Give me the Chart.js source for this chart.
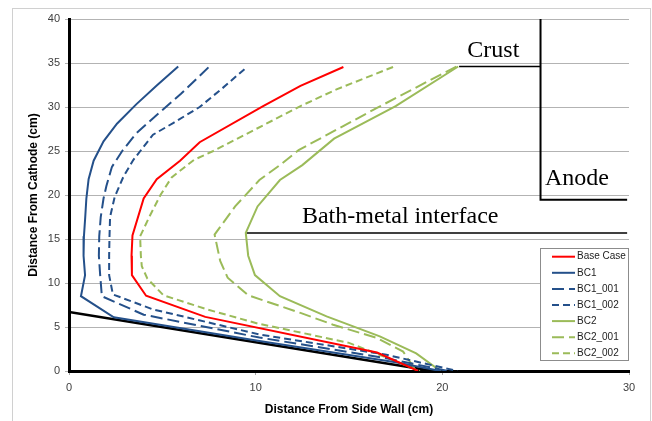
<!DOCTYPE html>
<html>
<head>
<meta charset="utf-8">
<script src="https://cdn.jsdelivr.net/npm/chart.js@4"></script>
<style>
  html, body { margin: 0; padding: 0; background: #fff; }
  #wrap { width: 652px; height: 421px; }
</style>
</head>
<body>
<div id="wrap"><canvas id="chartFreeze" width="652" height="421"></canvas></div>
<script>
  // [x, y] pairs (x = distance from side wall, y = distance from cathode)
  const baseCase = [[14.7, 34.55], [12.4, 32.4], [10.4, 30.1], [7.0, 26.0], [5.95, 23.9], [4.7, 21.8], [4.0, 19.6], [3.4, 15.4], [3.35, 13.1], [3.37, 10.9], [4.13, 8.55], [7.3, 6.15], [16.5, 2.1], [18.7, 0]];
  const bc1 = [[5.85, 34.6], [4.7, 32.45], [3.6, 30.3], [2.57, 28.1], [1.85, 26.1], [1.32, 23.9], [1.05, 21.8], [0.93, 19.6], [0.87, 17.5], [0.8, 15.3], [0.78, 13.1], [0.86, 10.9], [0.64, 8.5], [2.4, 6.1], [10.2, 3.4], [17.5, 1.0], [19.9, 0]];
  const bc1_001 = [[7.47, 34.5], [6.0, 31.5], [4.7, 29.1], [3.6, 27.0], [2.85, 25.0], [2.3, 23.2], [2.0, 21.0], [1.85, 19.6], [1.7, 17.5], [1.62, 15.3], [1.6, 13.1], [1.67, 10.9], [1.76, 8.5], [4.0, 6.4], [10.2, 3.8], [17.0, 1.45], [20.3, 0]];
  const bc1_002 = [[9.4, 34.3], [8.2, 32.1], [7.0, 30.0], [5.6, 28.2], [4.5, 26.85], [3.45, 24.0], [2.92, 22.1], [2.45, 19.8], [2.2, 17.5], [2.17, 15.3], [2.15, 13.1], [2.15, 10.9], [2.35, 8.7], [4.5, 7.0], [10.2, 4.15], [17.0, 1.85], [20.8, 0]];
  const bc2 = [[20.85, 34.6], [17.5, 30.1], [15.9, 28.3], [14.2, 26.4], [12.5, 23.4], [11.3, 21.7], [10.1, 18.7], [9.47, 15.7], [9.6, 13.1], [9.96, 10.9], [11.3, 8.5], [13.8, 6.2], [16.65, 3.93], [18.6, 2.0], [19.9, 0]];
  const bc2_001 = [[20.75, 34.6], [16.5, 29.9], [12.3, 25.1], [11.3, 23.4], [10.2, 21.7], [8.9, 18.7], [7.8, 15.5], [8.1, 12.5], [8.5, 10.6], [9.6, 8.6], [12.4, 6.6], [14.15, 5.26], [16.5, 3.75], [17.9, 2.2], [18.6, 0]];
  const bc2_002 = [[17.36, 34.55], [14.33, 32.0], [12.4, 30.1], [7.73, 25.0], [6.7, 24.0], [5.5, 22.0], [4.9, 20.0], [4.3, 17.5], [3.81, 15.3], [3.85, 13.1], [3.9, 11.9], [4.2, 10.5], [5.06, 8.6], [7.4, 7.0], [10.1, 5.4], [15.0, 3.2], [16.8, 1.7], [18.8, 0]];

  // outline of the cell drawn in black
  const ledgeLine = [[0, 6.7], [19.5, 0]];
  const crustLine = [[20.9, 34.6], [25.26, 34.6]];
  const anodeLine = [[25.26, 40], [25.26, 19.45], [29.9, 19.45]];
  const interfaceLine = [[9.5, 15.68], [29.9, 15.68]];

  const seriesNames = ["Base Case", "BC1", "BC1_001", "BC1_002", "BC2", "BC2_001", "BC2_002"];
  const seriesData = [baseCase, bc1, bc1_001, bc1_002, bc2, bc2_001, bc2_002];
  const noteLabels = ["Crust", "Anode", "Bath-metal interface"];

  const xTickValues = [0, 10, 20, 30];
  const yTickValues = [0, 5, 10, 15, 20, 25, 30, 35, 40];

  const RED = "#ff0000";
  const BLUE = "#24508a";
  const GREEN = "#9bbb59";
  const seriesStyle = [
    { color: RED, dash: [] },
    { color: BLUE, dash: [] },
    { color: BLUE, dash: [12, 5] },
    { color: BLUE, dash: [7, 4] },
    { color: GREEN, dash: [] },
    { color: GREEN, dash: [12, 5] },
    { color: GREEN, dash: [7, 4] }
  ];

  const toPoints = (arr) => arr.map(([x, y]) => ({ x, y }));

  const datasets = seriesData.map((d, i) => ({
    label: seriesNames[i],
    data: toPoints(d),
    borderColor: seriesStyle[i].color,
    borderDash: seriesStyle[i].dash,
    borderWidth: 2,
    showLine: true,
    pointRadius: 0,
    tension: 0
  }));

  const outline = (d, w) => ({
    label: "",
    data: toPoints(d),
    borderColor: "#000",
    borderWidth: w,
    showLine: true,
    pointRadius: 0
  });
  datasets.push(outline(ledgeLine, 2.5), outline(crustLine, 1.5), outline(anodeLine, 2), outline(interfaceLine, 1.5));

  const extras = {
    id: "extras",
    beforeDraw(chart) {
      const { ctx } = chart;
      ctx.save();
      ctx.fillStyle = "#fff";
      ctx.fillRect(0, 0, chart.width, chart.height);
      ctx.strokeStyle = "#d0d0d0";
      ctx.lineWidth = 1;
      ctx.strokeRect(12.5, 8.5, 638, 430);
      ctx.restore();
    },
    afterDatasetsDraw(chart) {
      const { ctx, scales: { x, y } } = chart;
      ctx.save();
      // text notes on the cell sketch
      ctx.fillStyle = "#000";
      ctx.font = "24px 'Liberation Serif', 'Times New Roman', serif";
      ctx.textBaseline = "alphabetic";
      ctx.textAlign = "left";
      const notes = [[21.34, 35.7], [25.5, 21.17], [12.48, 16.82]];
      noteLabels.forEach((t, i) => {
        ctx.fillText(t, x.getPixelForValue(notes[i][0]), y.getPixelForValue(notes[i][1]));
      });

      // legend box inside plot
      const bx = 540.5, by = 248.5, bw = 88, bh = 112;
      ctx.fillStyle = "#fff";
      ctx.fillRect(bx, by, bw, bh);
      ctx.strokeStyle = "#8c8c8c";
      ctx.lineWidth = 1;
      ctx.strokeRect(bx, by, bw, bh);
      ctx.font = "10px 'Liberation Sans Narrow', 'Liberation Sans', sans-serif";
      ctx.textBaseline = "middle";
      seriesNames.forEach((name, i) => {
        const ly = 256.7 + i * 16.1;
        ctx.strokeStyle = seriesStyle[i].color;
        ctx.lineWidth = 2;
        ctx.setLineDash(seriesStyle[i].dash);
        ctx.beginPath();
        ctx.moveTo(552, ly);
        ctx.lineTo(575, ly);
        ctx.stroke();
        ctx.setLineDash([]);
        ctx.fillStyle = "#222";
        ctx.fillText(name, 577, ly);
      });
      ctx.restore();
    }
  };

  const tickFont = { family: "'Liberation Sans', sans-serif", size: 11 };
  const titleFont = { family: "'Liberation Sans', sans-serif", size: 12, weight: "bold" };

  new Chart(document.getElementById("chartFreeze"), {
    type: "scatter",
    data: { datasets },
    options: {
      responsive: false,
      devicePixelRatio: 1,
      animation: false,
      layout: { padding: { left: 22, top: 19, right: 23, bottom: 0 } },
      plugins: {
        legend: { display: false },
        tooltip: { enabled: false }
      },
      scales: {
        x: {
          type: "linear",
          min: 0,
          max: 30,
          afterBuildTicks: (s) => { s.ticks = xTickValues.map((v) => ({ value: v })); },
          afterFit: (s) => { s.height = 50; },
          ticks: { font: tickFont, color: "#404040", padding: 6 },
          grid: { drawOnChartArea: false, drawTicks: true, tickLength: 4, color: "#a6a6a6" },
          border: { color: "#000", width: 3 },
          title: { display: true, text: "Distance From Side Wall (cm)", font: titleFont, color: "#000", padding: { top: 4, bottom: 4 } }
        },
        y: {
          type: "linear",
          min: 0,
          max: 40,
          afterBuildTicks: (s) => { s.ticks = yTickValues.map((v) => ({ value: v })); },
          afterFit: (s) => { s.width = 47; },
          ticks: { font: tickFont, color: "#404040", padding: 5 },
          grid: { color: "#b3b3b3", tickLength: 4 },
          border: { color: "#000", width: 3 },
          title: { display: true, text: "Distance From Cathode (cm)", font: titleFont, color: "#000", padding: { top: 4, bottom: 4 } }
        }
      }
    },
    plugins: [extras]
  });
</script>
</body>
</html>
